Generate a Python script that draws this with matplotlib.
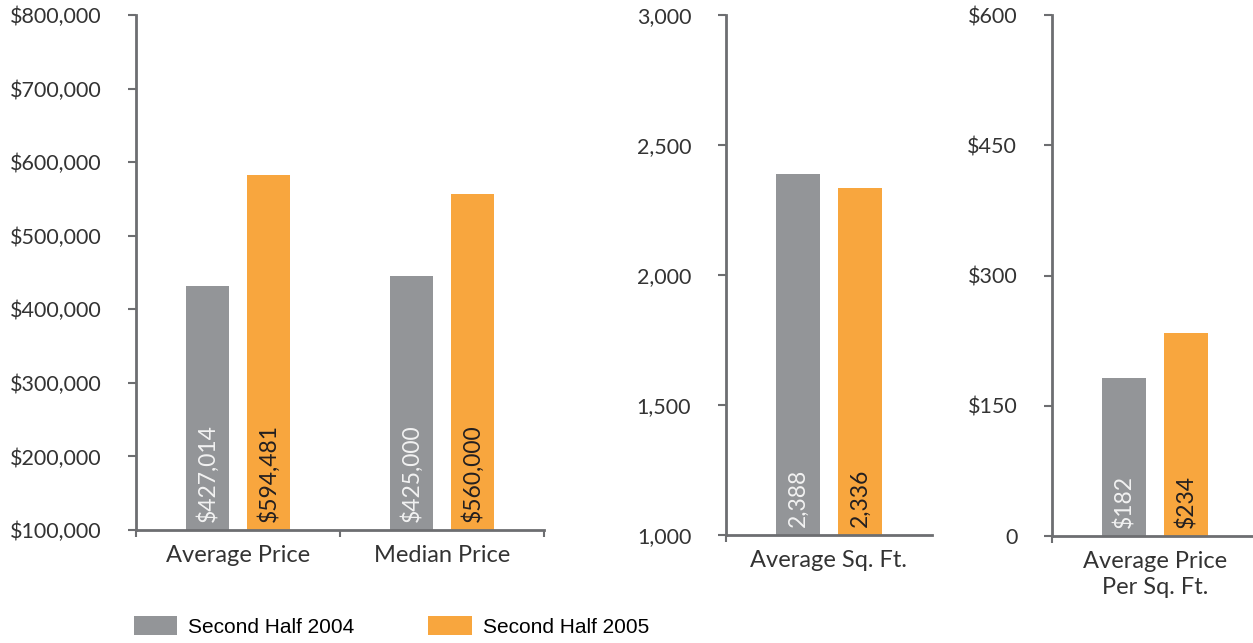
import matplotlib
matplotlib.use("Agg")
import matplotlib.pyplot as plt

# series
series = ["Second Half 2004", "Second Half 2005"]
gray = "#939598"
orange = "#f8a63e"

price_cats = ["Average Price", "Median Price"]
price_2004 = [432000, 445000]
price_2005 = [583000, 557000]
price_lbl_2004 = ["$427,014", "$425,000"]
price_lbl_2005 = ["$594,481", "$560,000"]
price_ticks = [100000, 200000, 300000, 400000, 500000, 600000, 700000, 800000]
price_ticklabels = ["$100,000", "$200,000", "$300,000", "$400,000",
                    "$500,000", "$600,000", "$700,000", "$800,000"]

sqft_cats = ["Average Sq. Ft."]
sqft_2004 = [2388]
sqft_2005 = [2336]
sqft_lbl_2004 = ["2,388"]
sqft_lbl_2005 = ["2,336"]
sqft_ticks = [1000, 1500, 2000, 2500, 3000]
sqft_ticklabels = ["1,000", "1,500", "2,000", "2,500", "3,000"]

ppsf_cats = ["Average Price\nPer Sq. Ft."]
ppsf_2004 = [182]
ppsf_2005 = [234]
ppsf_lbl_2004 = ["$182"]
ppsf_lbl_2005 = ["$234"]
ppsf_ticks = [0, 150, 300, 450, 600]
ppsf_ticklabels = ["0", "$150", "$300", "$450", "$600"]

plt.rcParams["font.family"] = ["Lato", "DejaVu Sans"]
W, H = 1253, 643
fig = plt.figure(figsize=(W / 100, H / 100), dpi=100)

spine_c = "#6d6e71"
text_c = "#333333"


def panel(rect, cats, v04, v05, l04, l05, ticks, ticklabels, ylim, end_tick):
    ax = fig.add_axes(rect)
    x = list(range(len(cats)))
    bw = 0.213
    off = 0.15
    b1 = ax.bar([i - off for i in x], v04, bw, color=gray, label=series[0])
    b2 = ax.bar([i + off for i in x], v05, bw, color=orange, label=series[1])
    base = ylim[0] + (ylim[1] - ylim[0]) * 0.016
    for r, txt in zip(b1, l04):
        ax.text(r.get_x() + r.get_width() / 2, base, txt, rotation=90,
                ha="center", va="bottom", color="#f2f2f2", fontsize=16.5)
    for r, txt in zip(b2, l05):
        ax.text(r.get_x() + r.get_width() / 2, base, txt, rotation=90,
                ha="center", va="bottom", color="#231f20", fontsize=16.5)
    ax.set_xlim(-0.5, len(cats) - 0.5)
    ax.set_ylim(*ylim)
    ax.set_yticks(ticks)
    ax.set_yticklabels(ticklabels)
    ax.set_xticks(x)
    ax.set_xticklabels(cats, linespacing=1.25)
    if end_tick:
        ax.set_xticks([i - 0.5 for i in range(len(cats) + 1)], minor=True)
    else:
        ax.set_xticks([-0.5], minor=True)
    ax.tick_params(axis="x", which="major", length=0, pad=11, labelsize=17,
                   labelcolor=text_c)
    ax.tick_params(axis="x", which="minor", length=5, width=1.5,
                   color=spine_c, direction="out")
    ax.tick_params(axis="y", length=6, width=1.5, color=spine_c, pad=19,
                   labelsize=15.5, labelcolor=text_c)
    for s in ["top", "right"]:
        ax.spines[s].set_visible(False)
    for s in ["left", "bottom"]:
        ax.spines[s].set_color(spine_c)
        ax.spines[s].set_linewidth(2)
    return ax, b1, b2


ax1, h1, h2 = panel([136 / W, (H - 530) / H, 408 / W, 515 / H], price_cats,
                    price_2004, price_2005, price_lbl_2004, price_lbl_2005,
                    price_ticks, price_ticklabels, (100000, 800000), True)
panel([726 / W, (H - 535) / H, 206 / W, 520 / H], sqft_cats,
      sqft_2004, sqft_2005, sqft_lbl_2004, sqft_lbl_2005,
      sqft_ticks, sqft_ticklabels, (1000, 3000), False)
panel([1052 / W, (H - 536) / H, 206 / W, 521 / H], ppsf_cats,
      ppsf_2004, ppsf_2005, ppsf_lbl_2004, ppsf_lbl_2005,
      ppsf_ticks, ppsf_ticklabels, (0, 600), False)

fig.legend([h1, h2], series, loc="upper left",
           bbox_to_anchor=(134 / W, 1 - 616 / H), ncol=2, frameon=False,
           borderpad=0, borderaxespad=0, handlelength=2.07, handleheight=1.06,
           handletextpad=0.53, columnspacing=3.55,
           prop={"family": ["Liberation Sans", "DejaVu Sans"], "size": 15})

fig.savefig("out.png", dpi=100)
